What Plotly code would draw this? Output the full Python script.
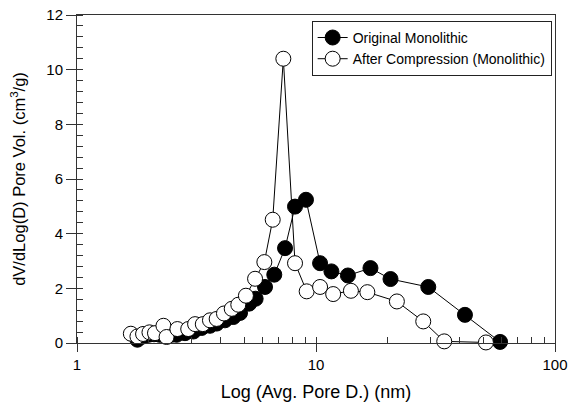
import plotly.graph_objects as go

# Original Monolithic (filled)
orig_x = [1.79, 1.89, 1.99, 2.1, 2.22, 2.35, 2.48, 2.61, 2.83, 3.07, 3.32, 3.6, 3.84, 4.16,
          4.51, 4.81, 5.25, 5.59, 6.12, 6.69, 7.42, 8.17, 9.08, 10.4, 11.6, 13.6, 16.9,
          20.5, 29.5, 42.0, 58.9]
orig_y = [0.12, 0.24, 0.30, 0.32, 0.30, 0.30, 0.30, 0.30, 0.36, 0.42, 0.55, 0.63, 0.71, 0.83,
          0.95, 1.10, 1.44, 1.62, 2.05, 2.50, 3.47, 4.99, 5.24, 2.92, 2.62, 2.47, 2.74,
          2.34, 2.05, 1.03, 0.04]

# After Compression (Monolithic) (open)
comp_x = [1.68, 1.79, 1.89, 2.01, 2.12, 2.30, 2.37, 2.63, 2.92, 3.12, 3.36, 3.60, 3.84, 4.12,
          4.44, 4.73, 5.09, 5.56, 6.08, 6.59, 7.30, 8.17, 9.14, 10.4, 11.8, 14.0, 16.4,
          21.8, 28.1, 34.4, 51.4]
comp_y = [0.34, 0.24, 0.33, 0.39, 0.36, 0.63, 0.22, 0.51, 0.51, 0.69, 0.69, 0.83, 0.88, 1.08,
          1.25, 1.40, 1.73, 2.35, 2.96, 4.51, 10.40, 2.92, 1.89, 2.05, 1.79, 1.91, 1.86,
          1.52, 0.79, 0.06, 0.02]

fig = go.Figure()
fig.add_trace(go.Scatter(
    x=orig_x, y=orig_y, mode="lines+markers", name="Original Monolithic",
    line=dict(color="black", width=1),
    marker=dict(symbol="circle", size=15, color="black", line=dict(color="black", width=1)),
    cliponaxis=False,
))
fig.add_trace(go.Scatter(
    x=comp_x, y=comp_y, mode="lines+markers", name="After Compression (Monolithic)",
    line=dict(color="black", width=1),
    marker=dict(symbol="circle", size=15, color="white", line=dict(color="black", width=1)),
    cliponaxis=False,
))

font_family = "Liberation Sans, Arial, sans-serif"

fig.update_layout(
    width=570, height=410,
    margin=dict(l=77, r=15, t=15, b=67, autoexpand=False),
    paper_bgcolor="white", plot_bgcolor="white",
    font=dict(family=font_family, size=15, color="black"),
    showlegend=True,
    legend=dict(
        x=0.993, y=0.982, xanchor="right", yanchor="top",
        bgcolor="white", bordercolor="#222", borderwidth=1,
        font=dict(family=font_family, size=14, color="black"),
        tracegroupgap=0,
    ),
    xaxis=dict(
        type="log", range=[0, 2], dtick=1, automargin=False,
        showgrid=False, zeroline=False,
        showline=True, linecolor="#333", linewidth=1, mirror=True,
        ticks="outside", ticklen=8, tickcolor="#333", tickwidth=1,
        minor=dict(ticks="inside", ticklen=6, dtick="D1", tickcolor="#333", showgrid=False),
        title=dict(text="Log (Avg. Pore D.) (nm)", font=dict(size=18), standoff=13),
        tickfont=dict(size=15),
    ),
    yaxis=dict(
        range=[0, 12], dtick=2, automargin=False,
        showgrid=False, zeroline=False,
        showline=True, linecolor="#333", linewidth=1, mirror=True,
        ticks="outside", ticklen=10, tickcolor="#333", tickwidth=1,
        minor=dict(ticks="inside", ticklen=6, dtick=0.4, tickcolor="#333", showgrid=False),
        title=dict(text="dV/dLog(D) Pore Vol. (cm<sup>3</sup>/g)", font=dict(size=16.5), standoff=16),
        tickfont=dict(size=15),
    ),
)

fig.write_html("out.html")
